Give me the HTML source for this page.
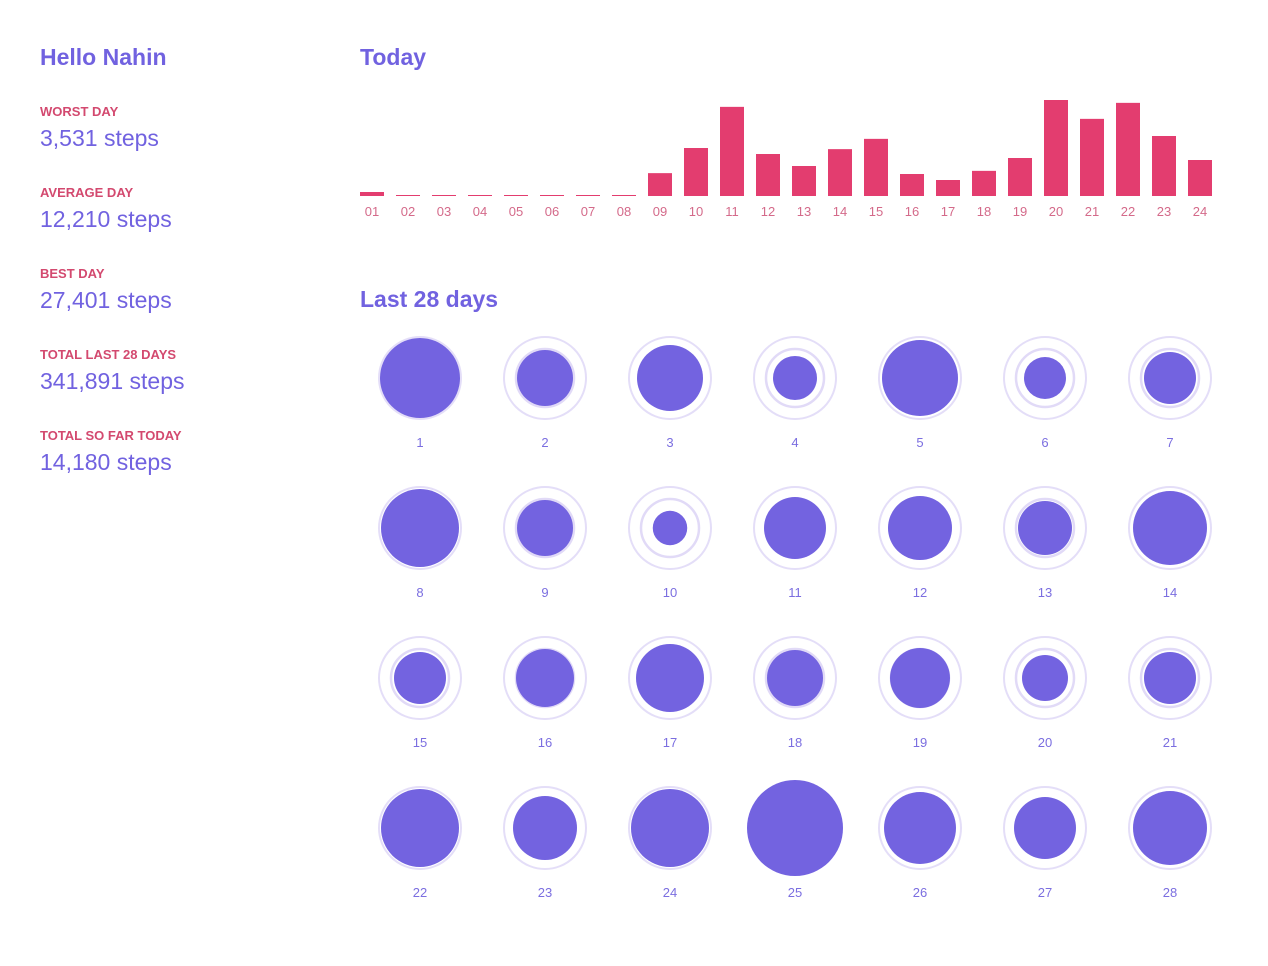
<!DOCTYPE html>
<html><head><meta charset="utf-8"><style>
body{margin:0;width:1268px;height:966px;background:#fff;font-family:"Liberation Sans",sans-serif;position:relative;overflow:hidden}
.h{position:absolute;color:#7162e0;font-weight:bold;font-size:23px}
.lab{position:absolute;left:40px;color:#d3496f;font-weight:bold;font-size:13px}
.val{position:absolute;left:40px;color:#7162e0;font-size:23px}
svg{position:absolute;left:0;top:0}
</style></head><body>
<div class="h" style="left:40px;top:44px">Hello Nahin</div>
<div class="lab" style="top:104px">WORST DAY</div>
<div class="val" style="top:125px">3,531 steps</div>
<div class="lab" style="top:185px">AVERAGE DAY</div>
<div class="val" style="top:206px">12,210 steps</div>
<div class="lab" style="top:266px">BEST DAY</div>
<div class="val" style="top:287px">27,401 steps</div>
<div class="lab" style="top:347px">TOTAL LAST 28 DAYS</div>
<div class="val" style="top:368px">341,891 steps</div>
<div class="lab" style="top:428px">TOTAL SO FAR TODAY</div>
<div class="val" style="top:449px">14,180 steps</div>
<div class="h" style="left:360px;top:44px">Today</div>
<div class="h" style="left:360px;top:286px">Last 28 days</div>
<svg id="chart" width="1268" height="966"></svg>
<script>
const hours=["01","02","03","04","05","06","07","08","09","10","11","12","13","14","15","16","17","18","19","20","21","22","23","24"];
const hourSteps=[70,17,17,17,17,17,17,17,400,840,1560,735,525,820,1000,385,280,440,665,1680,1350,1630,1050,630];
const days=[1,2,3,4,5,6,7,8,9,10,11,12,13,14,15,16,17,18,19,20,21,22,23,24,25,26,27,28];
const daySteps=[19030,9323,12950,5756,17170,5245,8040,18090,9323,3531,11430,12180,8670,16280,8040,10000,13750,9323,10700,6290,8040,18090,12180,18090,27401,15410,11430,16280];
const maxHour=1680, maxDay=27401;
const NS="http://www.w3.org/2000/svg";
const svg=document.getElementById('chart');
function mk(t,a){const e=document.createElementNS(NS,t);for(const k in a)e.setAttribute(k,a[k]);svg.appendChild(e);return e;}
const barX=i=>360+36*i, barH=v=>v/maxHour*96, base=196;
hours.forEach((h,i)=>{
  const hh=Math.max(1,barH(hourSteps[i]));
  const r=mk('rect',{x:barX(i),y:base-hh,width:24,height:hh,fill:'#e33d6f'});
  
  
  const t=mk('text',{x:barX(i)+12,y:216,'text-anchor':'middle','font-size':13,fill:'#d46a8a','font-family':'Liberation Sans, sans-serif'});
  t.textContent=h;
  
  
});
const cx=i=>420+125*(i%7), cy=i=>378+150*Math.floor(i/7), rad=v=>48*Math.sqrt(v/maxDay);
days.forEach((d,i)=>{
  const ring=mk('circle',{cx:cx(i),cy:cy(i),r:41,fill:'none',stroke:'#e4def8','stroke-width':2});
  
  
  const avg=mk('circle',{cx:cx(i),cy:cy(i),r:29,fill:'none',stroke:'#e1daf7','stroke-width':2.5});
  
  
  const r=rad(daySteps[i]);
  const c=mk('circle',{cx:cx(i),cy:cy(i),r:r,fill:'#7363e0'});
  
  
  const t=mk('text',{x:cx(i),y:cy(i)+69,'text-anchor':'middle','font-size':13,fill:'#7b6ee0','font-family':'Liberation Sans, sans-serif'});
  t.textContent=d;
  
  
});
</script>
</body></html>
